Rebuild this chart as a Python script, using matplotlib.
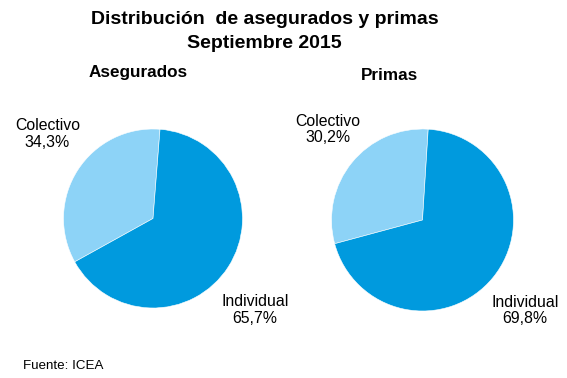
import matplotlib
matplotlib.use("Agg")
import matplotlib.pyplot as plt

plt.rcParams['font.family'] = ['Liberation Sans', 'DejaVu Sans']

categories = ["Colectivo", "Individual"]
asegurados = [34.3, 65.7]
primas = [30.2, 69.8]
colors = ["#8DD3F7", "#009ADE"]

W, H = 567, 378
fig = plt.figure(figsize=(W / 100, H / 100), dpi=100)
ax = fig.add_axes([0, 0, 1, 1])

def fy(y):
    return H - y

ax.pie(asegurados, colors=colors, startangle=85.5, counterclock=True,
       center=(153, fy(218.5)), radius=89.5, frame=True,
       wedgeprops=dict(linewidth=0.4, edgecolor="white"))
ax.pie(primas, colors=colors, startangle=86.4, counterclock=True,
       center=(422.5, fy(220)), radius=91, frame=True,
       wedgeprops=dict(linewidth=0.4, edgecolor="white"))

ax.set_xlim(0, W)
ax.set_ylim(0, H)
ax.set_aspect('equal', adjustable='box')
ax.axis('off')

def pct(v):
    return f"{v:.1f}%".replace(".", ",")

lab_fs = 11.4
ls = 1.12
ax.text(47.5, fy(134), f"{categories[0]}\n{pct(asegurados[0])}", ha="center", va="center",
        fontsize=lab_fs, linespacing=ls)
ax.text(255, fy(310), f"{categories[1]}\n{pct(asegurados[1])}", ha="center", va="center",
        fontsize=lab_fs, linespacing=ls)
ax.text(327.5, fy(129.5), f"{categories[0]}\n{pct(primas[0])}", ha="center", va="center",
        fontsize=lab_fs, linespacing=ls)
ax.text(525, fy(310.5), f"{categories[1]}\n{pct(primas[1])}", ha="center", va="center",
        fontsize=lab_fs, linespacing=ls)

ax.text(264.5, fy(20), "Distribución  de asegurados y primas", ha="center", va="center",
        fontsize=14, fontweight="bold")
ax.text(264.5, fy(43), "Septiembre 2015", ha="center", va="center",
        fontsize=14, fontweight="bold")
ax.text(138.5, fy(73), "Asegurados", ha="center", va="center", fontsize=12.3, fontweight="bold")
ax.text(389.5, fy(75), "Primas", ha="center", va="center", fontsize=12.3, fontweight="bold")
ax.text(23, fy(366), "Fuente: ICEA", ha="left", va="center", fontsize=9.6)

fig.savefig("out.png", dpi=100)
